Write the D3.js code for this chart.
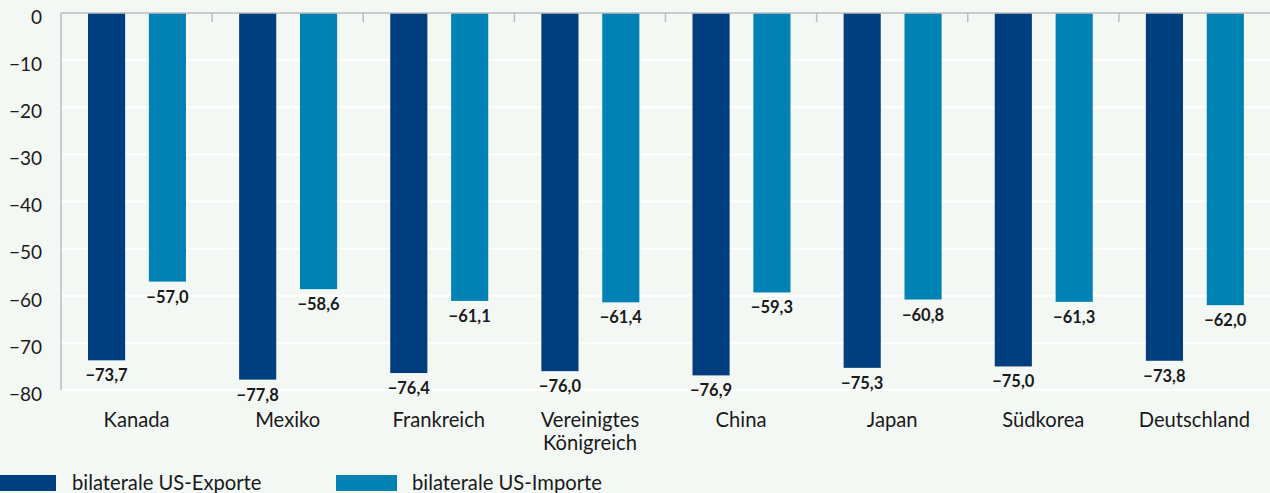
<!DOCTYPE html>
<html>
<head>
<meta charset="utf-8">
<script src="https://cdn.jsdelivr.net/npm/d3@7"></script>
<style>
  html, body { margin: 0; padding: 0; background: #f4f8f5; }
  svg { display: block; font-family: Lato, "Open Sans", sans-serif; }
</style>
</head>
<body>
<div id="chart"></div>
<script>
const categories = ["Kanada", "Mexiko", "Frankreich", "Vereinigtes Königreich", "China", "Japan", "Südkorea", "Deutschland"];
const exportsUS = [-73.7, -77.8, -76.4, -76.0, -76.9, -75.3, -75.0, -73.8];
const importsUS = [-57.0, -58.6, -61.1, -61.4, -59.3, -60.8, -61.3, -62.0];
const seriesNames = ["bilaterale US-Exporte", "bilaterale US-Importe"];
const yTicks = [0, -10, -20, -30, -40, -50, -60, -70, -80];

const colors = { exp: "#003f7f", imp: "#0083b4", axis: "#bcbcbc", grid: "#ffffff", text: "#1a1a1a" };
const width = 1270, height = 493;
const margin = { top: 13, left: 61, right: 0, bottom: 103 };

const fmt = v => (v < 0 ? "\u2212" : "") + Math.abs(v).toFixed(1).replace(".", ",");
const fmtTick = v => (v < 0 ? "\u2212" : "") + Math.abs(v);

const svg = d3.select("#chart").append("svg").attr("width", width).attr("height", height);

const x0 = d3.scaleBand().domain(categories).range([margin.left, width - margin.right]).padding(0);
const x1 = d3.scaleBand().domain(["exp", "imp"]).range([27, 125]).paddingInner(0.39);
const y = d3.scaleLinear().domain([0, -80]).range([margin.top, 390]);

// gridlines
svg.append("g")
  .selectAll("line")
  .data(yTicks.slice(1))
  .join("line")
  .attr("x1", margin.left).attr("x2", width)
  .attr("y1", d => y(d)).attr("y2", d => y(d))
  .attr("stroke", colors.grid).attr("stroke-width", 2);

// y tick labels
svg.append("g")
  .selectAll("text")
  .data(yTicks)
  .join("text")
  .attr("x", 42).attr("y", d => y(d) + 6)
  .attr("text-anchor", "end").attr("dominant-baseline", "middle")
  .attr("font-size", 19).attr("fill", colors.text)
  .text(fmtTick);

// bars
const data = categories.map((c, i) => ({ c, exp: exportsUS[i], imp: importsUS[i] }));
const groups = svg.append("g").selectAll("g").data(data).join("g")
  .attr("transform", d => `translate(${x0(d.c)},0)`);

["exp", "imp"].forEach(k => {
  groups.append("rect")
    .attr("x", x1(k)).attr("width", x1.bandwidth())
    .attr("y", y(0)).attr("height", d => y(d[k]) - y(0))
    .attr("fill", colors[k]);
  groups.append("text")
    .attr("x", x1(k) + x1.bandwidth() / 2)
    .attr("y", d => y(d[k]) + 21)
    .attr("text-anchor", "middle")
    .attr("font-size", 16.5).attr("font-weight", "bold").attr("fill", colors.text)
    .text(d => fmt(d[k]));
});

// axes lines
svg.append("line")
  .attr("x1", margin.left).attr("x2", width).attr("y1", y(0)).attr("y2", y(0))
  .attr("stroke", colors.axis).attr("stroke-width", 1.5);
svg.append("line")
  .attr("x1", margin.left).attr("x2", margin.left).attr("y1", y(0)).attr("y2", y(-80))
  .attr("stroke", colors.axis).attr("stroke-width", 1.5);
svg.append("g").selectAll("line")
  .data(categories.slice(1))
  .join("line")
  .attr("x1", d => x0(d)).attr("x2", d => x0(d))
  .attr("y1", y(0)).attr("y2", y(0) + 9)
  .attr("stroke", colors.axis).attr("stroke-width", 1.5);

// category labels
svg.append("g").selectAll("text")
  .data(categories)
  .join("text")
  .attr("x", d => x0(d) + x0.bandwidth() / 2)
  .attr("y", 427)
  .attr("text-anchor", "middle")
  .attr("font-size", 20.2).attr("fill", colors.text)
  .each(function (d) {
    const parts = d === "Vereinigtes Königreich" ? ["Vereinigtes", "Königreich"] : [d];
    const t = d3.select(this);
    parts.forEach((p, i) => {
      t.append("tspan").attr("x", x0(d) + x0.bandwidth() / 2).attr("dy", i === 0 ? 0 : 23).text(p);
    });
  });

// legend
const legend = [
  { name: seriesNames[0], color: colors.exp, rx: -5, tx: 72 },
  { name: seriesNames[1], color: colors.imp, rx: 336, tx: 412 }
];
const lg = svg.append("g").selectAll("g").data(legend).join("g");
lg.append("rect")
  .attr("x", d => d.rx).attr("y", 475).attr("width", 61).attr("height", 16)
  .attr("fill", d => d.color);
lg.append("text")
  .attr("x", d => d.tx).attr("y", 490)
  .attr("font-size", 20.2).attr("fill", colors.text)
  .text(d => d.name);
</script>
</body>
</html>
